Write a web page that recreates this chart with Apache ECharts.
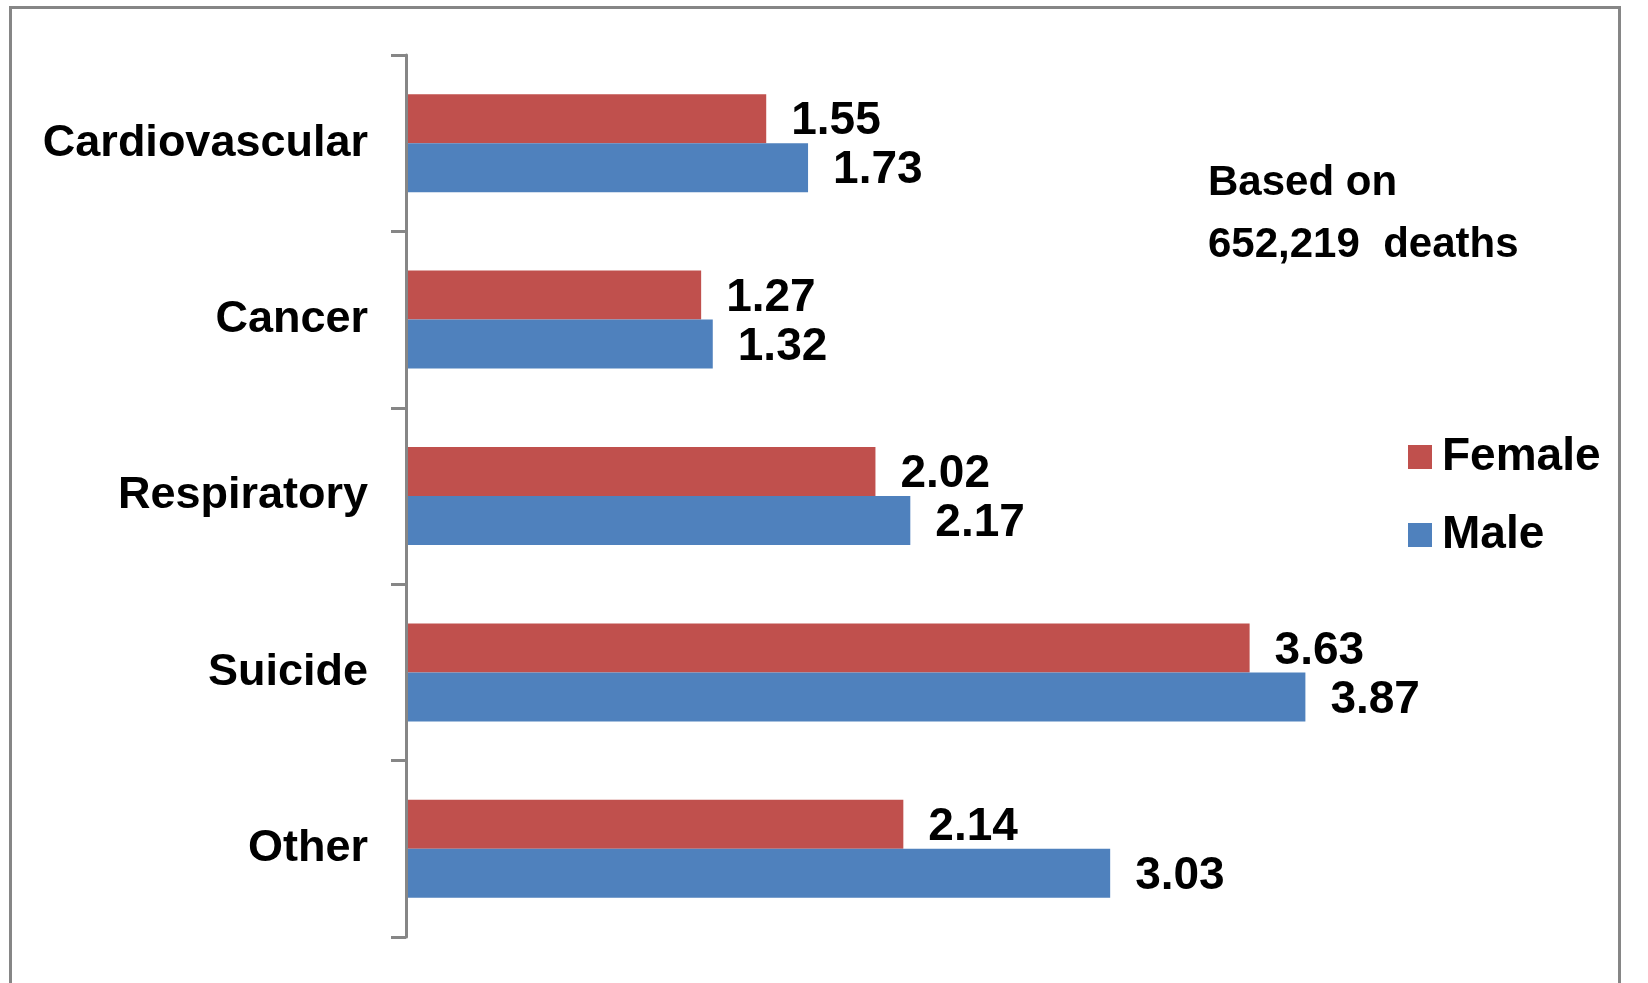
<!DOCTYPE html>
<html>
<head>
<meta charset="utf-8">
<title>Deaths by cause</title>
<script src="https://cdn.jsdelivr.net/npm/echarts@6/dist/echarts.min.js"></script>
<style>
  html, body { margin: 0; padding: 0; background: #ffffff; }
  #chart { width: 1648px; height: 983px; }
</style>
</head>
<body>
<div id="chart"></div>
<script>
// Cause-of-death categories, top to bottom
const categories = ['Cardiovascular', 'Cancer', 'Respiratory', 'Suicide', 'Other'];
// Ratios per cause
const femaleValues = [1.55, 1.27, 2.02, 3.63, 2.14];
const maleValues = [1.73, 1.32, 2.17, 3.87, 3.03];
const seriesNames = ['Female', 'Male'];
const noteText = 'Based on\n652,219  deaths';

const FEMALE_COLOR = '#C0504D';
const MALE_COLOR = '#4F81BD';
const GRAY = '#868686';
const FONT = 'Liberation Sans';

const chart = echarts.init(document.getElementById('chart'), null, { renderer: 'canvas' });

const valueLabel = {
  show: true,
  position: 'right',
  distance: 25,
  offset: [0, 3],
  color: '#000',
  fontFamily: FONT,
  fontWeight: 'bold',
  fontSize: 46,
  formatter: p => p.value.toFixed(2)
};

chart.setOption({
  backgroundColor: '#ffffff',
  animation: false,
  title: {
    text: noteText,
    left: 1208,
    top: 152,
    padding: 0,
    textStyle: {
      fontFamily: FONT,
      fontSize: 42,
      fontWeight: 'bold',
      lineHeight: 62,
      color: '#000'
    }
  },
  legend: {
    data: seriesNames,
    orient: 'vertical',
    left: 1408,
    top: 433,
    padding: 0,
    itemWidth: 24,
    itemHeight: 24,
    itemGap: 30,
    icon: 'rect',
    textStyle: {
      fontFamily: FONT,
      fontSize: 46,
      fontWeight: 'bold',
      lineHeight: 48,
      padding: [0, 0, 0, 5],
      color: '#000'
    }
  },
  grid: {
    left: 406,
    top: 55,
    width: 1162,
    height: 882,
    containLabel: false
  },
  xAxis: {
    type: 'value',
    min: 0,
    max: 5,
    show: false
  },
  yAxis: {
    type: 'category',
    data: categories,
    inverse: true,
    z: 5,
    axisLine: { show: true, lineStyle: { color: GRAY, width: 3 } },
    axisTick: { show: true, length: 15, lineStyle: { color: GRAY, width: 3 } },
    axisLabel: {
      margin: 38,
      color: '#000',
      fontFamily: FONT,
      fontWeight: 'bold',
      fontSize: 45,
      padding: [6, 0, 0, 0]
    },
    splitLine: { show: false }
  },
  series: [
    {
      name: seriesNames[0],
      type: 'bar',
      data: femaleValues,
      barWidth: 49,
      barGap: '0%',
      itemStyle: { color: FEMALE_COLOR },
      label: valueLabel
    },
    {
      name: seriesNames[1],
      type: 'bar',
      data: maleValues,
      barWidth: 49,
      barGap: '0%',
      itemStyle: { color: MALE_COLOR },
      label: valueLabel
    }
  ],
  graphic: [
    {
      type: 'rect',
      silent: true,
      z: 100,
      shape: { x: 10.5, y: 7.5, width: 1609, height: 1000 },
      style: { fill: null, stroke: GRAY, lineWidth: 3 }
    }
  ]
});
</script>
</body>
</html>
